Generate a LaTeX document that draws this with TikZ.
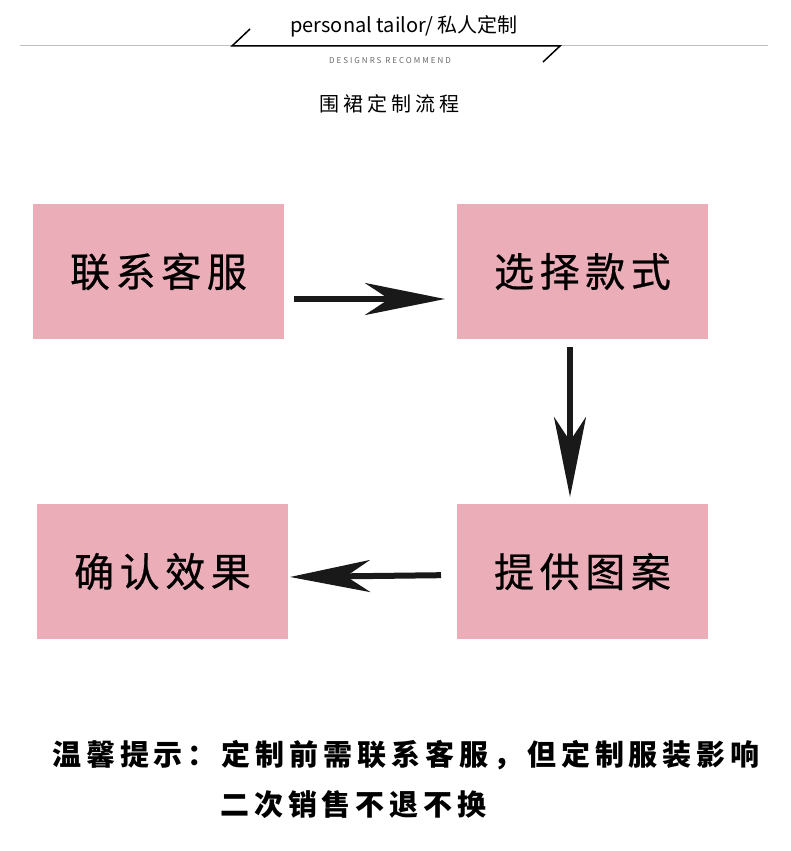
\documentclass[tikz,border=0pt]{standalone}
\usepackage{fontspec}
\setmainfont{Noto Sans CJK SC}
\newfontfamily\boxfont[LetterSpace=14, FakeBold=0.6]{Noto Sans CJK SC}
\newfontfamily\notefont[LetterSpace=17]{Noto Sans CJK SC}
\newfontfamily\titlefont[LetterSpace=20]{Noto Sans CJK SC}
\newfontfamily\smallfont[LetterSpace=25]{Noto Sans CJK SC}
\usetikzlibrary{positioning, arrows.meta}
\definecolor{boxpink}{RGB}{235,174,185}
\tikzstyle{stepbox} = [fill=boxpink, minimum width=251pt, minimum height=135pt,
  inner sep=0pt, outer sep=0pt, font=\boxfont\fontsize{40}{42}\selectfont]
\tikzstyle{arrow} = [line width=6pt, black!90,
  -{Stealth[length=80pt, width=32pt, inset=24pt]}]
\tikzstyle{note} = [anchor=west, inner sep=0pt, font=\notefont\bfseries\fontsize{29}{31}\selectfont]

\begin{document}
\begin{tikzpicture}[x=1pt, y=1pt, node distance=173pt]
\useasboundingbox (0,0) rectangle (790,-851);
% header
\draw [black!25, line width=1pt] (20,-46) -- (768,-46);
\draw [line width=1.5pt] (250,-29) -- (232,-46) -- (560,-46) -- (543,-62);
\node (tailor) at (404,-26) {\fontsize{20}{22}\selectfont personal tailor/ 私人定制};
\node (recommend) at (390,-61) [text=black!60] {\smallfont\fontsize{8}{9}\selectfont DESIGNRS RECOMMEND};
\node (title) at (389,-104) {\titlefont\fontsize{20}{22}\selectfont 围裙定制流程};

% steps
\node (b1) [stepbox] at (158.5,-271.5) {\raisebox{-2pt}{联系客服}};
\node (b2) [stepbox, right=173pt of b1] {\raisebox{-2pt}{选择款式}};
\node (b4) [stepbox, below=165pt of b2] {\raisebox{-2pt}{提供图案}};
\node (b3) [stepbox, left=169pt of b4] {\raisebox{-2pt}{确认效果}};

\draw [arrow, shorten <=10pt, shorten >=12pt] ([yshift=-27.5pt]b1.east) -- ([yshift=-27.5pt]b2.west);
\draw [arrow, shorten <=8pt, shorten >=7pt] ([xshift=-12.5pt]b2.south) -- ([xshift=-12.5pt]b4.north);
\draw [arrow, shorten <=16pt, shorten >=2pt] ([yshift=-3.5pt]b4.west) -- ([yshift=-5.5pt]b3.east);

% note
\node (note1) [note] at (52,-755) {温馨提示：定制前需联系客服，但定制服装影响};
\node (note2) [note] at (220,-805) {二次销售不退不换};
\end{tikzpicture}
\end{document}
